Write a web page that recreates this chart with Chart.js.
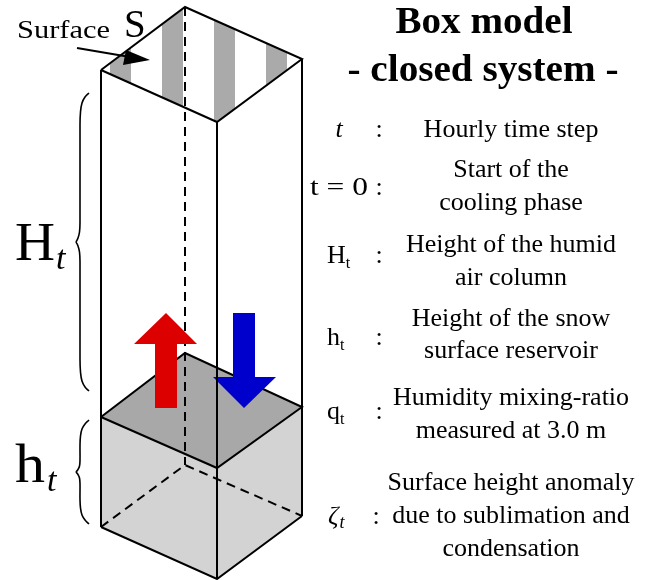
<!DOCTYPE html>
<html><head><meta charset="utf-8">
<style>html,body{margin:0;padding:0;background:#fff}canvas{display:block}</style>
<script src="https://cdn.jsdelivr.net/npm/chart.js@4.4.1/dist/chart.umd.min.js"></script>
</head><body>
<canvas id="c" width="649" height="580"></canvas>
<script>
// ---------- diagram geometry (diagram units = pixels of a 649 x 580 frame) ----------
const frameX = [0, 649];
const frameY = [0, 580];
const topFace    = [[101,70],[185,7],[302,59],[217,122]];
const snowTop    = [[101,417],[185,353],[302,407],[217,468]];
const bottomFace = [[101,527],[185,465],[302,516],[217,579]];
const stripeStarts = [110, 162, 214, 266];
const stripeWidth = 21;
const redArrow  = [[155,408],[155,344],[134,344],[166,313],[197,344],[177,344],[177,408]];
const blueArrow = [[233,313],[255,313],[255,377],[276,377],[244,408],[213,377],[233,377]];
const braceHUpper = [[89,93],[85,97],[82,103],[80.5,112],[80,125],[80,222],[79.5,232],[78,238],[76,242]];
const braceHLower = [[76,242],[78,246],[79.5,252],[80,262],[80,359],[80.5,372],[82,381],[85,387],[89,391]];
const bracehUpper = [[89,420],[85,424],[82,429],[80.5,436],[80,445],[80,460],[79.5,466],[78,469.5],[76,472]];
const bracehLower = [[76,472],[78,474.5],[79.5,478],[80,484],[80,499],[80.5,508],[82,515],[85,520],[89,524]];
const surfaceLine = [[77,48],[130,57]];
const surfaceHead = [[150,60],[126,50],[123,65]];

// ---------- texts ----------
const titleLines = ['Box model', '- closed system -'];
const symbolMain = ['t', 't = 0', 'H', 'h', 'q', 'ζ'];
const symbolSub  = ['', '', 't', 't', 't', 't'];
const descriptions = [
  ['Hourly time step'],
  ['Start of the', 'cooling phase'],
  ['Height of the humid', 'air column'],
  ['Height of the snow', 'surface reservoir'],
  ['Humidity mixing-ratio', 'measured at 3.0 m'],
  ['Surface height anomaly', 'due to sublimation and', 'condensation']
];
const leftLabels = ['H', 'h'];
const surfaceLabel = ['Surface', 'S'];

// ---------- layout of text ----------
const symbolBaseline = [137, 195, 263, 345, 419, 524];
const descBaseline   = [137, 177, 252, 326, 405, 490];
const lineGap = 33;

// ---------- helpers ----------
const pts = a => a.map(([x, y]) => ({x, y}));
function clipHalf(poly, inside, cross) {
  const out = [];
  for (let i = 0; i < poly.length; i++) {
    const a = poly[i], b = poly[(i + 1) % poly.length];
    const ia = inside(a), ib = inside(b);
    if (ia) out.push(a);
    if (ia !== ib) out.push(cross(a, b));
  }
  return out;
}
function clipStrip(poly, xa, xb) {
  const lerp = (a, b, x) => [x, a[1] + (b[1] - a[1]) * (x - a[0]) / (b[0] - a[0])];
  let p = clipHalf(poly, q => q[0] >= xa, (a, b) => lerp(a, b, xa));
  p = clipHalf(p, q => q[0] <= xb, (a, b) => lerp(a, b, xb));
  return p;
}
const datasets = [];
function addShape(points, o) {
  const closed = o.closed ? points.concat([points[0]]) : points;
  datasets.push({
    data: pts(closed), showLine: true, pointRadius: 0, pointHoverRadius: 0,
    fill: o.fill ? 'shape' : false,
    backgroundColor: o.fill || 'rgba(0,0,0,0)',
    borderColor: o.stroke || 'rgba(0,0,0,0)',
    borderWidth: o.width || 0,
    borderDash: o.dash || [],
    tension: o.tension || 0,
    borderCapStyle: 'butt', borderJoinStyle: 'miter',
    clip: false
  });
}

// painting order (first = bottom)
addShape([snowTop[0], snowTop[3], snowTop[2], bottomFace[2], bottomFace[3], bottomFace[0]], {closed: true, fill: '#d3d3d3'});
addShape(snowTop, {closed: true, fill: '#a8a8a8', stroke: '#000', width: 2});
stripeStarts.forEach(s => addShape(clipStrip(topFace, s, s + stripeWidth), {closed: true, fill: '#aaaaaa'}));
addShape([topFace[1], bottomFace[1]], {stroke: '#000', width: 2, dash: [9, 6]});
addShape([bottomFace[0], bottomFace[1], bottomFace[2]], {stroke: '#000', width: 2, dash: [9, 6]});
addShape(redArrow, {closed: true, fill: '#dd0000'});
addShape(blueArrow, {closed: true, fill: '#0000cc'});
addShape([topFace[0], bottomFace[0]], {stroke: '#000', width: 2});
addShape([topFace[3], bottomFace[3]], {stroke: '#000', width: 2});
addShape([topFace[2], bottomFace[2]], {stroke: '#000', width: 2});
addShape([bottomFace[0], bottomFace[3], bottomFace[2]], {stroke: '#000', width: 2});
addShape(topFace, {closed: true, stroke: '#000', width: 2});
[braceHUpper, braceHLower, bracehUpper, bracehLower].forEach(b => addShape(b, {stroke: '#000', width: 1.6, tension: 0.4}));
addShape(surfaceLine, {stroke: '#000', width: 2});
addShape(surfaceHead, {closed: true, fill: '#000'});
datasets.forEach((d, i) => d.order = datasets.length - i);

const SERIF = "'Liberation Serif','Times New Roman',serif";
function txt(ctx, s, x, y, font, align, fitW) {
  ctx.save();
  ctx.font = font;
  ctx.textBaseline = 'alphabetic';
  ctx.fillStyle = '#000';
  let w = ctx.measureText(s).width;
  let k = fitW ? fitW / w : 1;
  let x0 = align === 'center' ? x - w * k / 2 : (align === 'right' ? x - w * k : x);
  ctx.translate(x0, y);
  ctx.scale(k, 1);
  ctx.textAlign = 'left';
  ctx.fillText(s, 0, 0);
  ctx.restore();
  return w * k;
}

const textPlugin = {
  id: 'texts',
  afterDatasetsDraw(chart) {
    const ctx = chart.ctx, sx = chart.scales.x, sy = chart.scales.y;
    const X = v => sx.getPixelForValue(v), Y = v => sy.getPixelForValue(v);
    // titles
    txt(ctx, titleLines[0], X(484), Y(33), 'bold 37px ' + SERIF, 'center', 177);
    txt(ctx, titleLines[1], X(483), Y(81), 'bold 37px ' + SERIF, 'center', 271);
    // rows
    symbolMain.forEach((m, i) => {
      const yb = Y(symbolBaseline[i]);
      if (i === 0) txt(ctx, m, X(339), yb, 'italic 26px ' + SERIF, 'center');
      else if (i === 1) txt(ctx, m, X(310), yb, '26px ' + SERIF, 'left', 58);
      else if (i === 5) {
        const w = txt(ctx, m, X(328), yb, 'italic 26px ' + SERIF, 'left');
        txt(ctx, symbolSub[i], X(328) + w + 1, yb + 4, 'italic 18px ' + SERIF, 'left');
      } else {
        const w = txt(ctx, m, X(327), yb, '26px ' + SERIF, 'left');
        txt(ctx, symbolSub[i], X(327) + w, yb + 5, '16px ' + SERIF, 'left');
      }
      txt(ctx, ':', X(i === 5 ? 376 : 379), yb, '26px ' + SERIF, 'center');
      descriptions[i].forEach((d, j) => {
        txt(ctx, d, X(511), Y(descBaseline[i] + j * (i === 3 ? 32 : lineGap)), '26px ' + SERIF, 'center');
      });
    });
    // left labels
    let w = txt(ctx, leftLabels[0], X(15), Y(260), '54px ' + SERIF, 'left', 40);
    txt(ctx, 't', X(15) + w + 1, Y(269), 'italic 34px ' + SERIF, 'left');
    w = txt(ctx, leftLabels[1], X(15), Y(482), '54px ' + SERIF, 'left', 30);
    txt(ctx, 't', X(15) + w + 2, Y(491), 'italic 34px ' + SERIF, 'left');
    // surface label
    txt(ctx, surfaceLabel[0], X(17), Y(38), '26px ' + SERIF, 'left', 93);
    txt(ctx, surfaceLabel[1], X(124), Y(37), '39px ' + SERIF, 'left');
  }
};

new Chart(document.getElementById('c'), {
  type: 'scatter',
  data: { datasets },
  options: {
    responsive: false, animation: false,
    layout: { padding: 0 },
    events: [],
    plugins: { legend: { display: false }, tooltip: { enabled: false } },
    scales: {
      x: { type: 'linear', min: frameX[0], max: frameX[1], display: false },
      y: { type: 'linear', min: frameY[0], max: frameY[1], reverse: true, display: false }
    }
  },
  plugins: [textPlugin]
});
</script>
</body></html>
